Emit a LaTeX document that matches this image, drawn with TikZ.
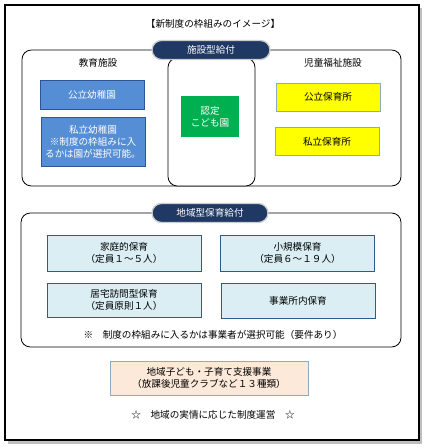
\documentclass[tikz,border=0pt]{standalone}
\usepackage{fontspec}
\setmainfont{Noto Sans CJK JP}
\usepackage{tikz}
\usetikzlibrary{positioning,shapes.misc}
\definecolor{Navy}{HTML}{1F3864}
\definecolor{Kblue}{HTML}{558ED5}
\definecolor{Kedge}{HTML}{2F5597}
\definecolor{Green}{HTML}{00B050}
\definecolor{Yel}{HTML}{FFFF00}
\definecolor{Yedge}{HTML}{8EA9C8}
\definecolor{Lblue}{HTML}{DAEEF3}
\definecolor{Ledge}{HTML}{2E5C8A}
\definecolor{Peach}{HTML}{FDE9D9}
\definecolor{Pedge}{HTML}{8EA9C1}
\tikzset{
  txt/.style={font=\fontsize{7.2}{9}\selectfont,align=center,inner sep=0pt},
  grp/.style={draw=black,line width=.6pt,rounded corners=7pt,fill=white},
  tab/.style={rounded rectangle,fill=Navy,draw=black!20,line width=1pt,text=white,
    font=\fontsize{7.2}{9}\selectfont,inner sep=0pt,minimum height=14.25pt},
  kbox/.style={txt,draw=Kedge,fill=Kblue,text=white,line width=.6pt,minimum width=78pt},
  gbox/.style={txt,fill=Green,text=white,minimum width=43.5pt,minimum height=30.75pt},
  ybox/.style={txt,draw=Yedge,fill=Yel,line width=.6pt,minimum width=78pt,minimum height=21pt},
  lbox/.style={txt,draw=Ledge,fill=Lblue,line width=.6pt,minimum width=115.5pt},
  pbox/.style={txt,draw=Pedge,fill=Peach,line width=.6pt,minimum width=148.5pt,minimum height=25.5pt}
}
\begin{document}
\begin{tikzpicture}[x=.75pt,y=-.75pt]
  \useasboundingbox (0,0) rectangle (426,448);
  % outer frame
  \fill[black!25] (8,8) rectangle (422,444);
  \draw[fill=white,line width=1.1pt] (5,5) rectangle (419,440);
  \node[txt] (title) at (213,24) {【新制度の枠組みのイメージ】};

  % facility-type benefit
  \draw[grp] (22,50) rectangle (401,186);
  \draw[grp] (168,58) rectangle (255,186);
  \node[tab,minimum width=88.5pt] (tabA) at (211,50) {施設型給付};
  \node[txt] (kyoiku) at (98,63) {教育施設};
  \node[kbox,minimum height=21.75pt] (kouyo) at (92,94.5) {公立幼稚園};
  \node[kbox,minimum height=36.75pt] (shiyo) at (93,141.5) {私立幼稚園\\※制度の枠組みに入\\るかは園が選択可能。};
  \node[gbox] (nintei) at (210,116.5) {認定\\こども園};
  \node[txt] (jido) at (333,63) {児童福祉施設};
  \node[ybox] (kouho) at (328,97) {公立保育所};
  \node[ybox] (shiho) at (327,141.5) {私立保育所};

  % community-type benefit
  \draw[grp] (21,213) rectangle (401,347);
  \node[tab,minimum width=87pt] (tabB) at (210,213) {地域型保育給付};
  \node[lbox,minimum height=27pt] (katei) at (124,253) {家庭的保育\\（定員１～５人）};
  \node[lbox,minimum height=25.5pt] (kyotaku) at (124,300) {居宅訪問型保育\\（定員原則１人）};
  \node[lbox,minimum height=27pt] (shokibo) at (297.5,253) {小規模保育\\（定員６～１９人）};
  \node[lbox,minimum height=26.25pt] (jigyo) at (298,300.5) {事業所内保育};
  \node[txt] (note) at (213,335) {※\quad 制度の枠組みに入るかは事業者が選択可能（要件あり）};

  \node[pbox] (chiiki) at (209,378) {地域子ども・子育て支援事業\\（放課後児童クラブなど１３種類）};
  \node[txt] (unei) at (213,415) {☆\quad 地域の実情に応じた制度運営\quad ☆};
\end{tikzpicture}
\end{document}
